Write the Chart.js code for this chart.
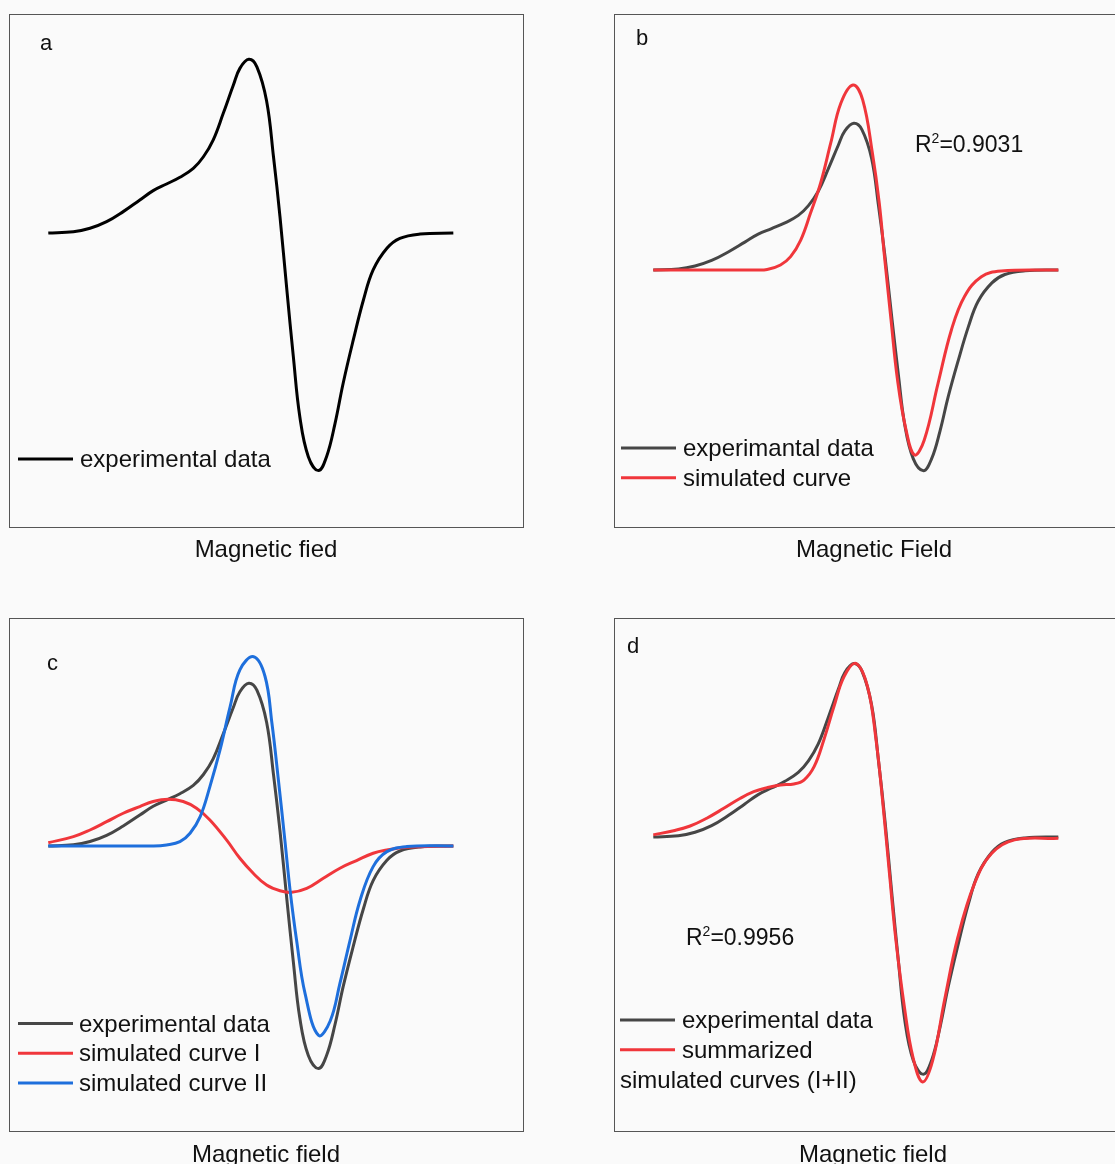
<!DOCTYPE html>
<html>
<head>
<meta charset="utf-8">
<title>EPR spectra</title>
<script src="https://cdn.jsdelivr.net/npm/chart.js@4.4.0/dist/chart.umd.min.js"></script>
<style>
  html, body { margin: 0; padding: 0; width: 1115px; height: 1164px; overflow: hidden; background: #fafafa; }
  canvas { position: absolute; }
</style>
</head>
<body>
<canvas id="chartA" width="560" height="600" style="left:0px;top:0px"></canvas>
<canvas id="chartB" width="600" height="600" style="left:560px;top:0px"></canvas>
<canvas id="chartC" width="560" height="564" style="left:0px;top:600px"></canvas>
<canvas id="chartD" width="600" height="564" style="left:560px;top:600px"></canvas>
<script>
// experimental spectrum (field in % of sweep, signal relative to the main peak)
var fieldExp  = [0, 6.2, 10.3, 14.4, 18.5, 22.6, 25.9, 29.2, 32.5, 35.8, 38.3, 40.7, 43.2, 45.7, 47.3, 49.5, 51.5, 53.9, 55.6, 57.2, 58.9, 60.5, 62.1, 64.2, 66.7, 68.7, 70.8, 72.8, 75.3, 77.8, 80.2, 83.6, 86.8, 91.8, 100];
var signalExp = [0, 0.7, 2.7, 6.5, 12.3, 19.0, 24.4, 28.2, 32.1, 37.2, 43.9, 53.5, 68.9, 85.2, 94.8, 100, 95.7, 76, 43.9, 9.4, -32.8, -71.2, -105.8, -128.8, -136.8, -128.8, -109.6, -86.5, -61.6, -38.6, -21.3, -8.8, -3.1, -0.6, 0];

// panel b: single simulated curve
var fieldSim  = [0, 25.0, 28.1, 31.4, 33.9, 36.4, 38.8, 41.3, 43.8, 46.3, 49.3, 51.7, 54.1, 55.8, 57.0, 58.7, 60.3, 62.4, 64.5, 66.9, 70.3, 73.6, 76.8, 81.0, 85.9, 100];
var signalSim = [0, 0, 0.3, 3.4, 9.1, 20.4, 38.6, 59.1, 86.4, 113.6, 126.1, 115.9, 79.5, 45.4, 11.4, -34.1, -75, -109, -126.1, -115.9, -77.3, -40.9, -18.2, -4.6, -0.7, 0];

// panel c: simulated curve I (broad) and II (narrow)
var fieldSimI  = [0, 6.2, 10.3, 14.4, 18.5, 22.6, 25.9, 29.6, 33.3, 36.6, 39.9, 44.0, 47.3, 50.6, 53.9, 57.2, 60.1, 63.8, 67.9, 72.0, 76.1, 80.2, 83.6, 88.5, 100];
var signalSimI = [2.0, 5.7, 9.8, 14.9, 20.1, 24.2, 27.3, 28.7, 27.3, 23.2, 16.0, 3.7, -7.6, -16.8, -24.0, -27.5, -28.5, -26.1, -19.9, -13.7, -9.0, -4.5, -2.5, -0.8, 0];
var fieldSimII  = [0, 26.0, 29.2, 32.5, 35.0, 37.5, 39.9, 42.4, 44.9, 47.3, 50.7, 53.5, 55.2, 56.8, 58.4, 59.7, 61.3, 63.4, 66.7, 69.6, 72.0, 74.5, 77.0, 80.2, 83.6, 88.5, 100];
var signalSimII = [0, 0, 0.6, 2.6, 7.8, 18.0, 36.5, 59.0, 85.6, 108.2, 116.3, 104.3, 75.7, 40.8, 3.7, -27.3, -58.0, -90.8, -116.4, -107.6, -84.5, -58.0, -33.2, -12.7, -3.5, -0.4, 0];

// panel d: summed simulation (I+II)
var fieldSum  = [0, 5.0, 9.1, 13.2, 17.4, 21.5, 24.8, 28.1, 31.4, 34.7, 37.2, 39.7, 42.1, 44.6, 47.1, 50.0, 52.9, 55.0, 56.6, 58.3, 59.9, 62.0, 64.1, 66.5, 69.0, 71.9, 75.2, 79.3, 83.5, 89.2, 100];
var signalSum = [1.2, 3.6, 6.3, 10.8, 16.5, 22.3, 26.1, 28.4, 30.0, 30.5, 32.8, 40.5, 55.9, 75.1, 92.4, 100, 86.5, 55.9, 21.3, -20.9, -59.5, -98.1, -126.9, -141.2, -128.7, -94.1, -57.8, -26.9, -9.6, -1.7, -0.8];

function pts(xs, ys) {
  return xs.map(function (x, i) { return { x: x, y: ys[i] }; });
}

var FONT = '"Liberation Sans", Arial, sans-serif';
var GRAY = '#464646', RED = '#f0363b', BLUE = '#1e6fdc';

// draws frame, panel letter, legend, R² and the axis title
var panelDecor = {
  id: 'panelDecor',
  afterDraw: function (chart, args, o) {
    var ctx = chart.ctx, a = chart.chartArea;
    ctx.save();
    ctx.strokeStyle = '#555';
    ctx.lineWidth = 1;
    ctx.strokeRect(Math.round(a.left) + 0.5, Math.round(a.top) + 0.5,
                   Math.round(a.right - a.left), Math.round(a.bottom - a.top));
    ctx.translate(-o.ox, -o.oy);
    ctx.fillStyle = '#111';
    ctx.textBaseline = 'alphabetic';

    ctx.font = '22px ' + FONT;
    ctx.fillText(o.letter[0], o.letter[1], o.letter[2]);

    ctx.font = '24px ' + FONT;
    var y = o.legendY;
    chart.data.datasets.forEach(function (ds) {
      ctx.strokeStyle = ds.borderColor;
      ctx.lineWidth = 3;
      ctx.beginPath();
      ctx.moveTo(o.keyX0, y);
      ctx.lineTo(o.keyX1, y);
      ctx.stroke();
      var lines = [].concat(ds.label);
      ctx.fillText(lines[0], o.textX, y + 8);
      for (var i = 1; i < lines.length; i++) {
        y += 29.8;
        ctx.fillText(lines[i], o.keyX0, y + 8);
      }
      y += 29.8;
    });

    if (o.r2) {
      ctx.font = '23px ' + FONT;
      var x = o.r2[1];
      ctx.fillText('R', x, o.r2[2]);
      x += ctx.measureText('R').width;
      ctx.font = '14px ' + FONT;
      ctx.fillText('2', x, o.r2[2] - 9);
      x += ctx.measureText('2').width;
      ctx.font = '23px ' + FONT;
      ctx.fillText('=' + o.r2[0], x, o.r2[2]);
    }

    ctx.font = '24px ' + FONT;
    ctx.textAlign = 'center';
    ctx.fillText(o.title[0], o.title[1], o.title[2]);
    ctx.restore();
  }
};

function line(label, xs, ys, color, order) {
  return {
    label: label,
    data: pts(xs, ys),
    borderColor: color,
    borderWidth: 3,
    pointRadius: 0,
    fill: false,
    tension: 0.4,
    order: order
  };
}

function makePanel(id, datasets, yMin, yMax, pad, decor) {
  return new Chart(document.getElementById(id).getContext('2d'), {
    type: 'line',
    data: { datasets: datasets },
    options: {
      responsive: false,
      animation: false,
      events: [],
      layout: { padding: pad },
      scales: {
        x: { type: 'linear', min: -9.7, max: 117.2, display: false },
        y: { min: yMin, max: yMax, display: false }
      },
      plugins: {
        legend: { display: false },
        tooltip: { enabled: false },
        panelDecor: decor
      }
    },
    plugins: [panelDecor]
  });
}

makePanel('chartA',
  [line('experimental data', fieldExp, signalExp, '#000', 1)],
  -169.3, 126.1, { left: 9, top: 14, right: 37, bottom: 73 },
  { ox: 0, oy: 0, letter: ['a', 40, 50], keyX0: 18, keyX1: 73, textX: 80, legendY: 459,
    title: ['Magnetic fied', 266, 557] });

makePanel('chartB',
  [line('experimantal data', fieldExp, signalExp, GRAY, 2),
   line('simulated curve', fieldSim, signalSim, RED, 1)],
  -175.2, 174.5, { left: 54, top: 14, right: 32, bottom: 73 },
  { ox: 560, oy: 0, letter: ['b', 636, 45], keyX0: 621, keyX1: 676, textX: 683, legendY: 448,
    r2: ['0.9031', 915, 152], title: ['Magnetic Field', 874, 557] });

makePanel('chartC',
  [line('experimental data', fieldExp, signalExp, GRAY, 3),
   line('simulated curve I', fieldSimI, signalSimI, RED, 2),
   line('simulated curve II', fieldSimII, signalSimII, BLUE, 1)],
  -175.2, 140.1, { left: 9, top: 18, right: 37, bottom: 33 },
  { ox: 0, oy: 600, letter: ['c', 47, 670], keyX0: 18, keyX1: 73, textX: 79, legendY: 1023.5,
    title: ['Magnetic field', 266, 1162] });

makePanel('chartD',
  [line('experimental data', fieldExp, signalExp, GRAY, 2),
   line(['summarized', 'simulated curves (I+II)'], fieldSum, signalSum, RED, 1)],
  -169.5, 126.2, { left: 54, top: 18, right: 32, bottom: 33 },
  { ox: 560, oy: 600, letter: ['d', 627, 653], keyX0: 620, keyX1: 675, textX: 682, legendY: 1020,
    r2: ['0.9956', 686, 945], title: ['Magnetic field', 873, 1162] });
</script>
</body>
</html>
